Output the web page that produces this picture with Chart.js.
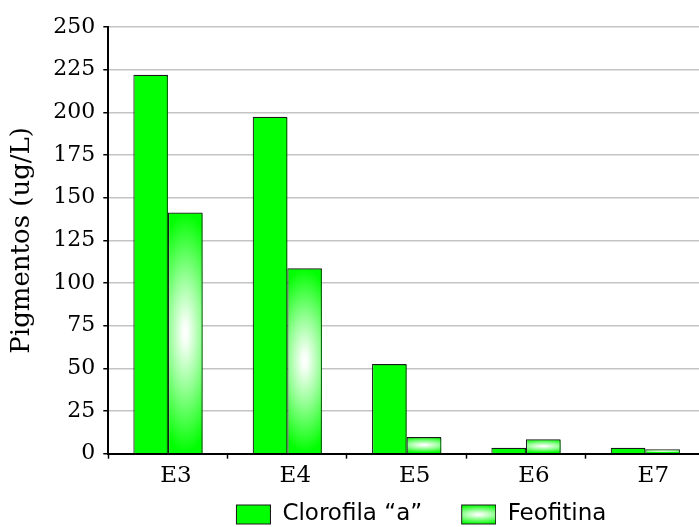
<!DOCTYPE html>
<html>
<head>
<meta charset="utf-8">
<script src="https://cdn.jsdelivr.net/npm/chart.js@4/dist/chart.umd.min.js"></script>
<style>
  html, body { margin: 0; padding: 0; background: #ffffff; overflow: hidden; }
  #wrap { width: 706px; height: 527px; }
</style>
</head>
<body>
<div id="wrap"><canvas id="chart" width="706" height="527"></canvas></div>
<script>
// Sampling stations and pigment concentrations (ug/L)
const stations = ['E3', 'E4', 'E5', 'E6', 'E7'];
const clorofila = [222, 197.4, 52.5, 3.5, 3.5];
const feofitina = [141.3, 108.6, 9.8, 8.4, 2.6];
const yTicks = [0, 25, 50, 75, 100, 125, 150, 175, 200, 225, 250];

const GREEN = '#00ff00';
const EDGE = '#1a1a1a';
const SERIF = '"DejaVu Serif", "Liberation Serif", serif';
const SANS = '"DejaVu Sans", "Liberation Sans", Arial, sans-serif';

// Radial white highlight fading to green, stretched to a bar's box
function paintGlow(ctx, cx, cy, halfW, halfH) {
  ctx.save();
  ctx.translate(cx, cy);
  ctx.scale(halfW * 2, halfH);
  const g = ctx.createRadialGradient(0, 0, 0, 0, 0, 1);
  g.addColorStop(0, 'rgba(255,255,255,1)');
  g.addColorStop(0.08, 'rgba(255,255,255,0.97)');
  g.addColorStop(0.45, 'rgba(255,255,255,0.6)');
  g.addColorStop(1, 'rgba(255,255,255,0)');
  ctx.fillStyle = g;
  ctx.fillRect(-1, -1, 2, 2);
  ctx.restore();
}

// Legend swatches (transparent lead-in keeps the gap between entries)
function swatch(glow) {
  const c = document.createElement('canvas');
  c.width = 64; c.height = 22;
  const x = c.getContext('2d');
  x.fillStyle = GREEN;
  x.fillRect(29.5, 1.5, 34, 19);
  if (glow) {
    x.save();
    x.beginPath(); x.rect(30, 2, 33, 18); x.clip();
    paintGlow(x, 46.5, 11, 17, 9.5);
    x.restore();
  }
  x.strokeStyle = EDGE;
  x.lineWidth = 1;
  x.strokeRect(29.5, 1.5, 34, 19);
  return c;
}

const glowPlugin = {
  id: 'feofitinaGlow',
  beforeDatasetsDraw(chart) {
    const ctx = chart.ctx;
    ctx.save();
    ctx.shadowColor = 'rgba(0,120,0,0.85)';
    ctx.shadowOffsetX = 2;
    ctx.shadowOffsetY = 1;
    ctx.shadowBlur = 0;
  },
  afterDatasetDraw(chart, args) {
    if (args.index !== 1) return;
    const ctx = chart.ctx;
    args.meta.data.forEach(bar => {
      const p = bar.getProps(['x', 'y', 'base', 'width'], true);
      const top = Math.min(p.y, p.base);
      const h = Math.abs(p.base - p.y);
      const left = p.x - p.width / 2;
      ctx.save();
      ctx.shadowColor = 'rgba(0,0,0,0)';
      ctx.beginPath();
      ctx.rect(left + 1, top + 1, p.width - 2, h - 2);
      ctx.clip();
      paintGlow(ctx, p.x, top + h / 2, p.width / 2, h / 2);
      ctx.restore();
    });
  },
  afterDatasetsDraw(chart) {
    chart.ctx.restore();
  }
};

new Chart(document.getElementById('chart'), {
  type: 'bar',
  data: {
    labels: stations,
    datasets: [
      {
        label: 'Clorofila “a”',
        data: clorofila,
        backgroundColor: GREEN,
        borderColor: EDGE,
        borderWidth: 1.2,
        pointStyle: swatch(false)
      },
      {
        label: 'Feofitina',
        data: feofitina,
        backgroundColor: GREEN,
        borderColor: EDGE,
        borderWidth: 1.2,
        pointStyle: swatch(true)
      }
    ]
  },
  options: {
    responsive: false,
    animation: false,
    devicePixelRatio: 1,
    datasets: { bar: { categoryPercentage: 0.58, barPercentage: 1.0 } },
    layout: { padding: { top: 27, right: 1, left: 0, bottom: 2 } },
    plugins: {
      tooltip: { enabled: false },
      legend: {
        position: 'bottom',
        fullSize: false,
        maxHeight: 32,
        labels: {
          usePointStyle: true,
          pointStyleWidth: 64,
          boxHeight: 22,
          padding: 10,
          color: '#000',
          font: { family: SANS, size: 23 }
        }
      }
    },
    scales: {
      x: {
        offset: true,
        afterFit(scale) { scale.height = 39.3; },
        grid: {
          drawOnChartArea: false,
          drawTicks: true,
          tickLength: 5,
          tickWidth: 1.5,
          tickColor: '#000'
        },
        border: { color: '#000', width: 2 },
        ticks: {
          color: '#000',
          font: { family: SERIF, size: 23 },
          labelOffset: 8,
          padding: 4
        }
      },
      y: {
        min: 0,
        max: 250,
        afterFit(scale) { scale.width = 108.3; },
        afterBuildTicks(scale) { scale.ticks = yTicks.map(v => ({ value: v })); },
        grid: {
          color: ctx => (ctx.tick && ctx.tick.value === 0) ? 'rgba(0,0,0,0)' : '#c4c4c4',
          lineWidth: 1.5,
          tickLength: 5,
          tickWidth: 1.5,
          tickColor: '#000'
        },
        border: { color: '#000', width: 2 },
        ticks: {
          color: '#000',
          font: { family: SERIF, size: 22 },
          padding: 8
        },
        title: {
          display: true,
          text: 'Pigmentos (ug/L)',
          color: '#000',
          font: { family: SERIF, size: 26 },
          padding: { top: 7, bottom: 0 }
        }
      }
    }
  },
  plugins: [glowPlugin]
});
</script>
</body>
</html>
